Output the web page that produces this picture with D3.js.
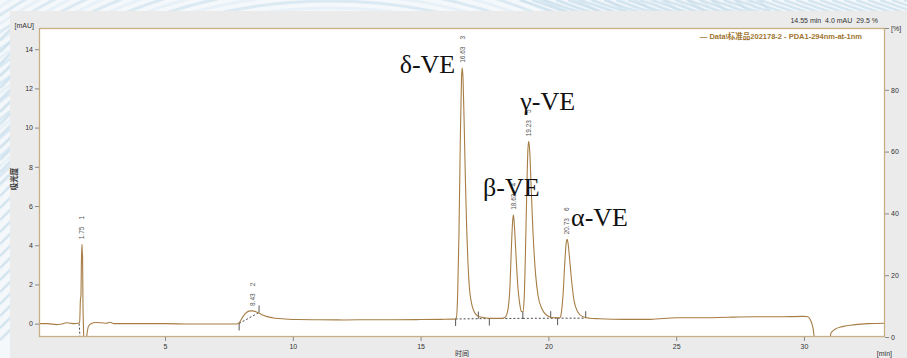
<!DOCTYPE html>
<html>
<head>
<meta charset="utf-8">
<script src="https://cdn.jsdelivr.net/npm/d3@7"></script>
<style>
  html, body { margin: 0; padding: 0; background: #f3f7fa; }
  svg { display: block; font-family: "Liberation Sans", Arial, sans-serif; }
</style>
</head>
<body>
<svg id="chart" width="907" height="358"></svg>
<script>
// Chromatogram trace: retention time (min) and absorbance (mAU)
const traceTime = [
  0.07, 0.4, 0.75, 0.95, 1.15, 1.3, 1.45, 1.6, 1.66, 1.69, 1.71, 1.73, 1.75, 1.765, 1.775, 1.79,
  1.81, 1.83, 1.9, 1.95, 2.0, 2.1, 2.3, 2.5, 2.7, 2.85, 3.0, 3.5, 4.0, 4.5, 5.0, 6.0, 7.0, 7.8,
  7.9, 8.0, 8.1, 8.2, 8.35, 8.43, 8.6, 8.8, 9.0, 9.3, 9.7, 10.2, 11.0, 12.0, 13.0, 14.0, 15.0,
  15.8, 16.3, 16.4, 16.45, 16.5, 16.55, 16.6, 16.63, 16.66, 16.7, 16.75, 16.8, 16.85, 16.9, 17.0,
  17.1, 17.25, 17.5, 17.8, 18.1, 18.3, 18.4, 18.5, 18.55, 18.6, 18.63, 18.66, 18.72, 18.8, 18.88,
  18.95, 19.0, 19.05, 19.1, 19.15, 19.2, 19.23, 19.27, 19.33, 19.4, 19.5, 19.6, 19.75, 19.95,
  20.2, 20.45, 20.5, 20.58, 20.65, 20.7, 20.73, 20.77, 20.83, 20.9, 21.0, 21.15, 21.35, 21.6,
  22.0, 23.0, 24.0, 25.0, 26.0, 27.0, 28.0, 29.0, 30.0, 30.15, 30.25, 30.35, 30.45, 31.0, 31.05,
  31.2, 31.5, 32.0, 32.5, 33.17
];
const traceSignal = [
  0.0, 0.0, -0.05, -0.02, 0.05, 0.02, 0.0, 0.02, 0.05, 1.2, 1.4, 3.2, 4.05, 3.6, 3.4, 1.0,
  -0.2, -1.0, -1.0, -0.5, -0.15, 0.0, 0.06, 0.05, 0.02, 0.07, 0.0, 0.0, 0.0, 0.0, 0.0, -0.02, -0.02, -0.02,
  0.05, 0.25, 0.45, 0.58, 0.65, 0.65, 0.58, 0.46, 0.36, 0.28, 0.24, 0.21, 0.2, 0.19, 0.2, 0.2, 0.21,
  0.22, 0.23, 0.3, 1.5, 4.5, 9.0, 12.5, 13.05, 12.5, 10.5, 7.5, 5.0, 3.2, 2.0, 1.0,
  0.6, 0.38, 0.3, 0.27, 0.27, 0.32, 0.6, 2.0, 3.8, 5.2, 5.55, 5.2, 3.8, 2.0, 1.0,
  0.62, 0.6, 1.2, 3.5, 6.5, 8.9, 9.3, 8.8, 6.8, 4.6, 2.5, 1.4, 0.75, 0.42,
  0.3, 0.3, 0.5, 1.6, 3.3, 4.15, 4.3, 4.1, 3.3, 2.3, 1.2, 0.6, 0.35, 0.28,
  0.25, 0.22, 0.22, 0.3, 0.3, 0.33, 0.35, 0.35, 0.37, 0.35, 0.2, -0.2, -1.0, -1.0, -0.5,
  -0.3, -0.15, -0.05, 0.0, 0.02
];

// Integrated peaks
const peakTimes   = [1.75, 8.43, 16.63, 18.63, 19.23, 20.73];
const peakHeights = [4.05, 0.65, 13.05, 5.55, 9.3, 4.3];
const peakNumbers = [1, 2, 3, 4, 5, 6];

// Compound names for the vitamin E isomers (peak number -> name)
const compoundPeaks = [3, 4, 5, 6];
const compoundNames = ["δ-VE", "β-VE", "γ-VE", "α-VE"];

// Integration baselines: [start time, start value], [end time, end value]
const baselineStart = [[1.64, 0.0], [7.9, 0.01], [16.37, 0.24], [17.69, 0.26], [19.0, 0.27], [20.36, 0.28]];
const baselineEnd   = [[1.69, -1.0], [8.68, 0.57], [17.69, 0.26], [19.0, 0.27], [20.36, 0.28], [21.46, 0.28]];

// Integration event markers: time, value, direction (1 = up, -1 = down)
const eventTimes  = [7.9, 8.68, 16.37, 17.26, 17.69, 19.0, 20.09, 20.36, 21.46];
const eventValues = [0.01, 0.57, 0.24, 0.26, 0.26, 0.27, 0.28, 0.28, 0.28];
const eventDirs   = [-1, 1, -1, 1, -1, 1, 1, -1, 1];

// Axis ticks
const xTicks = [5, 10, 15, 20, 25, 30];
const yTicks = [0, 2, 4, 6, 8, 10, 12, 14];
const y2Ticks = [0, 20, 40, 60, 80, 100];

const svg = d3.select("#chart");
const W = 907, H = 358;
const plot = { left: 39, right: 885, top: 28, bottom: 337 };

const traceColor = "#a67d45";
const frameColor = "#c9ad84";
const sansCJK = "'Liberation Sans', 'Noto Sans CJK SC', sans-serif";

// Decorative backdrop with soft blue swirls
const deco = svg.append("g");
deco.append("rect").attr("width", W).attr("height", H).attr("fill", "#f4f8fb");
d3.range(0, 30).forEach(i => {
  deco.append("circle")
    .attr("cx", 330).attr("cy", 520)
    .attr("r", 470 + i * 7)
    .attr("fill", "none")
    .attr("stroke", i % 2 ? "#dbe9f2" : "#e8f1f7")
    .attr("stroke-width", 3);
});
d3.range(0, 40).forEach(i => {
  deco.append("line")
    .attr("x1", 520 + i * 12).attr("y1", 0)
    .attr("x2", 560 + i * 12).attr("y2", 14)
    .attr("stroke", "#c9dfec").attr("stroke-width", 2.5).attr("opacity", 0.7);
});
d3.range(0, 26).forEach(i => {
  deco.append("line")
    .attr("x1", 0).attr("y1", 40 + i * 12)
    .attr("x2", 12).attr("y2", 28 + i * 12)
    .attr("stroke", "#cfe2ee").attr("stroke-width", 2.5).attr("opacity", 0.8);
});

// Gray window panel
svg.append("rect").attr("x", 10).attr("y", 11).attr("width", W - 10).attr("height", H - 11)
  .attr("fill", "#ebebeb");

// Plot area
svg.append("rect")
  .attr("x", plot.left).attr("y", plot.top)
  .attr("width", plot.right - plot.left).attr("height", plot.bottom - plot.top)
  .attr("fill", "#ffffff");

const x = d3.scaleLinear().domain([0.07, 33.17]).range([plot.left, plot.right]);
const y = d3.scaleLinear().domain([-0.68, 15.08]).range([plot.bottom, plot.top]);
const y2 = d3.scaleLinear().domain([0, 100]).range([plot.bottom, plot.top]);

svg.append("clipPath").attr("id", "plotClip")
  .append("rect")
  .attr("x", plot.left).attr("y", plot.top)
  .attr("width", plot.right - plot.left).attr("height", plot.bottom - plot.top);

const g = svg.append("g").attr("clip-path", "url(#plotClip)");

// Integration baselines (dashed)
g.selectAll("line.base").data(baselineStart).enter().append("line")
  .attr("class", "base")
  .attr("x1", d => x(d[0])).attr("y1", d => y(d[1]))
  .attr("x2", (d, i) => x(baselineEnd[i][0])).attr("y2", (d, i) => y(baselineEnd[i][1]))
  .attr("stroke", "#333").attr("stroke-width", 0.9).attr("stroke-dasharray", "2,2");

// Integration event markers
g.selectAll("line.evt").data(eventTimes).enter().append("line")
  .attr("class", "evt")
  .attr("x1", d => x(d)).attr("x2", d => x(d))
  .attr("y1", (d, i) => y(eventValues[i]))
  .attr("y2", (d, i) => y(eventValues[i]) - eventDirs[i] * 7)
  .attr("stroke", "#444").attr("stroke-width", 0.9);

// Chromatogram trace
const tracePoints = traceTime.map((t, i) => [t, traceSignal[i]]);
g.append("path")
  .datum(tracePoints)
  .attr("fill", "none")
  .attr("stroke", traceColor)
  .attr("stroke-width", 1.1)
  .attr("d", d3.line().x(d => x(d[0])).y(d => y(d[1])).curve(d3.curveMonotoneX));

// Frame
svg.append("rect")
  .attr("x", plot.left + 0.5).attr("y", plot.top + 0.5)
  .attr("width", plot.right - plot.left - 1).attr("height", plot.bottom - plot.top - 1)
  .attr("fill", "none").attr("stroke", frameColor).attr("stroke-width", 1.3);

// Axes
function styleAxis(sel) {
  sel.select(".domain").remove();
  sel.selectAll(".tick line").attr("stroke", "#8a8a8a");
  sel.selectAll(".tick text").attr("fill", "#333").attr("font-size", 7)
    .attr("font-family", "'Liberation Sans', Arial, sans-serif");
}

svg.append("g").attr("transform", `translate(0,${plot.bottom})`)
  .call(d3.axisBottom(x).tickValues(xTicks).tickSize(4).tickPadding(3).tickFormat(d3.format("d")))
  .call(styleAxis);

svg.append("g").attr("transform", `translate(${plot.left},0)`)
  .call(d3.axisLeft(y).tickValues(yTicks).tickSize(4).tickPadding(2).tickFormat(d3.format("d")))
  .call(styleAxis);

svg.append("g").attr("transform", `translate(${plot.right},0)`)
  .call(d3.axisRight(y2).tickValues(y2Ticks).tickSize(4).tickPadding(2)
    .tickFormat(d => d === 100 ? "[%]" : d3.format("d")(d)))
  .call(styleAxis);

// Axis titles
svg.append("text").attr("x", 34).attr("y", 28).attr("text-anchor", "end")
  .attr("font-size", 7).attr("fill", "#333").text("[mAU]");
svg.append("text").attr("x", 892).attr("y", 356).attr("text-anchor", "end")
  .attr("font-size", 7).attr("fill", "#333").text("[min]");
svg.append("text").attr("x", 462).attr("y", 356).attr("text-anchor", "middle")
  .attr("font-size", 7).attr("fill", "#333")
  .attr("font-family", sansCJK).text("时间");
svg.append("text")
  .attr("transform", "translate(17,179) rotate(-90)")
  .attr("text-anchor", "middle")
  .attr("font-size", 7.5).attr("font-weight", "bold").attr("fill", "#333")
  .attr("font-family", sansCJK).text("吸光度");

// Cursor readout and legend
svg.append("text").attr("x", 878).attr("y", 23).attr("text-anchor", "end")
  .attr("font-size", 7).attr("fill", "#333")
  .attr("xml:space", "preserve")
  .text("14.55 min  4.0 mAU  29.5 %");
svg.append("text").attr("x", 862).attr("y", 39).attr("text-anchor", "end")
  .attr("font-size", 7.5).attr("font-weight", "bold").attr("fill", "#a0742f")
  .attr("font-family", sansCJK)
  .text("— Data\\标准品202178-2 - PDA1-294nm-at-1nm");

// Peak annotations: retention time and peak number, rotated
peakTimes.forEach((t, i) => {
  const px = x(t), py = y(peakHeights[i]) - 5;
  const lbl = svg.append("text")
    .attr("transform", `translate(${px},${py}) rotate(-90)`)
    .attr("dy", "0.35em")
    .attr("font-size", 6.5).attr("fill", "#555");
  lbl.append("tspan").text(t.toFixed(2));
  lbl.append("tspan").attr("dx", 7).text(peakNumbers[i]);
});

// Compound names (serif), placed relative to their peaks
const nameOffsets = { 3: [-7, 5, "end"], 4: [-2, -19, "middle"], 5: [19, -31, "middle"], 6: [4, -13, "start"] };
compoundPeaks.forEach((p, k) => {
  const i = peakNumbers.indexOf(p);
  const off = nameOffsets[p];
  svg.append("text")
    .attr("x", x(peakTimes[i]) + off[0])
    .attr("y", y(peakHeights[i]) + off[1])
    .attr("text-anchor", off[2])
    .attr("font-family", "'Liberation Serif', 'Times New Roman', serif")
    .attr("font-size", 26).attr("fill", "#111")
    .text(compoundNames[k]);
});
</script>
</body>
</html>
